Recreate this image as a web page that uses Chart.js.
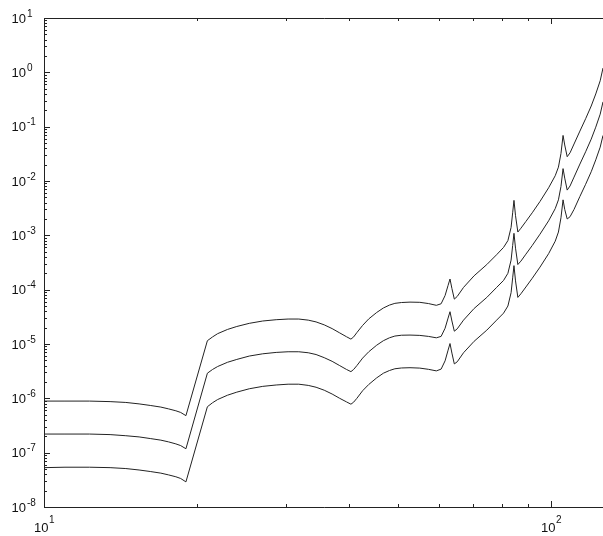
<!DOCTYPE html>
<html>
<head>
<meta charset="utf-8">
<script src="https://cdn.jsdelivr.net/npm/chart.js@4.4.1/dist/chart.umd.min.js"></script>
<style>
  html, body { margin: 0; padding: 0; background: #fff; }
  #wrap { width: 603px; height: 536px; }
</style>
</head>
<body>
<div id="wrap"><canvas id="myChart"></canvas></div>
<script>
// frequency axis, shared by the three response curves
const freq = [10, 11, 12.3, 13.5, 14.5, 15.4, 16.2, 17.0, 17.6, 18.2,
  18.6, 19.05, 21.0, 21.5, 22.0, 23.0, 24.0, 25.4, 27.0, 28.7,
  30.3, 31.8, 33.2, 34.4, 35.7, 37.0, 38.3, 39.5, 40.3, 40.8,
  41.4, 42.5, 43.7, 45.3, 46.7, 48.0, 49.2, 50.7, 52.7, 55.1,
  57.3, 59.4, 60.7, 61.8, 62.65, 63.2, 63.75, 64.45, 65.3, 67.2,
  70.5, 74.7, 78.1, 80.6, 82.2, 83.4, 84.0, 84.5, 85.1, 86.0,
  87.2, 89.2, 91.8, 95.1, 98.9, 101.9, 103.4, 104.6, 105.6, 106.4,
  107.6, 109.0, 111.0, 114.0, 117.0, 120.0, 122.5, 125.0, 126.6];

const upper = [8.9e-7, 8.9e-7, 8.9e-7, 8.7e-7, 8.4e-7, 7.9e-7, 7.4e-7, 6.9e-7, 6.4e-7, 5.9e-7,
  5.5e-7, 4.8e-7, 1.15e-5, 1.35e-5, 1.55e-5, 1.85e-5, 2.1e-5, 2.4e-5, 2.65e-5, 2.8e-5,
  2.88e-5, 2.88e-5, 2.75e-5, 2.55e-5, 2.25e-5, 1.92e-5, 1.6e-5, 1.36e-5, 1.23e-5, 1.35e-5,
  1.62e-5, 2.2e-5, 2.9e-5, 3.8e-5, 4.6e-5, 5.2e-5, 5.6e-5, 5.8e-5, 5.9e-5, 5.85e-5,
  5.55e-5, 5.15e-5, 5.5e-5, 7.8e-5, 1.2e-4, 1.57e-4, 1.05e-4, 6.7e-5, 7.5e-5, 1.1e-4,
  1.8e-4, 2.9e-4, 4.4e-4, 6.0e-4, 8.0e-4, 1.4e-3, 2.6e-3, 4.4e-3, 2.3e-3, 1.15e-3,
  1.35e-3, 1.8e-3, 2.6e-3, 4.2e-3, 7.5e-3, 1.25e-2, 1.8e-2, 3.2e-2, 6.9e-2, 4.6e-2,
  2.8e-2, 3.3e-2, 4.8e-2, 8.3e-2, 0.14, 0.24, 0.4, 0.7, 1.2];

const middle = [2.2e-7, 2.2e-7, 2.2e-7, 2.15e-7, 2.05e-7, 1.95e-7, 1.82e-7, 1.7e-7, 1.58e-7, 1.45e-7,
  1.35e-7, 1.18e-7, 2.9e-6, 3.4e-6, 3.85e-6, 4.6e-6, 5.2e-6, 6.0e-6, 6.6e-6, 7.0e-6,
  7.2e-6, 7.2e-6, 6.9e-6, 6.4e-6, 5.6e-6, 4.8e-6, 4.0e-6, 3.4e-6, 3.1e-6, 3.4e-6,
  4.0e-6, 5.5e-6, 7.2e-6, 9.5e-6, 1.15e-5, 1.3e-5, 1.4e-5, 1.45e-5, 1.46e-5, 1.44e-5,
  1.38e-5, 1.3e-5, 1.38e-5, 1.95e-5, 3.0e-5, 3.93e-5, 2.65e-5, 1.72e-5, 1.9e-5, 2.75e-5,
  4.5e-5, 7.2e-5, 1.1e-4, 1.48e-4, 2.0e-4, 3.5e-4, 6.5e-4, 1.09e-3, 5.8e-4, 2.9e-4,
  3.35e-4, 4.5e-4, 6.5e-4, 1.05e-3, 1.85e-3, 3.1e-3, 4.5e-3, 7.9e-3, 1.69e-2, 1.13e-2,
  6.8e-3, 8.1e-3, 1.18e-2, 2.05e-2, 3.45e-2, 5.9e-2, 9.8e-2, 0.17, 0.286];

const lower = [5.3e-8, 5.4e-8, 5.4e-8, 5.3e-8, 5.1e-8, 4.8e-8, 4.5e-8, 4.2e-8, 3.9e-8, 3.6e-8,
  3.35e-8, 2.9e-8, 7.0e-7, 8.3e-7, 9.5e-7, 1.14e-6, 1.3e-6, 1.5e-6, 1.66e-6, 1.76e-6,
  1.82e-6, 1.82e-6, 1.73e-6, 1.6e-6, 1.41e-6, 1.2e-6, 1.0e-6, 8.6e-7, 7.8e-7, 8.5e-7,
  1.0e-6, 1.38e-6, 1.8e-6, 2.38e-6, 2.9e-6, 3.25e-6, 3.5e-6, 3.62e-6, 3.66e-6, 3.6e-6,
  3.42e-6, 3.2e-6, 3.45e-6, 4.9e-6, 7.7e-6, 1.02e-5, 6.8e-6, 4.3e-6, 4.7e-6, 6.9e-6,
  1.12e-5, 1.8e-5, 2.75e-5, 3.7e-5, 5.0e-5, 8.8e-5, 1.65e-4, 2.77e-4, 1.45e-4, 7.2e-5,
  8.4e-5, 1.12e-4, 1.62e-4, 2.6e-4, 4.6e-4, 7.8e-4, 1.15e-3, 2.1e-3, 4.5e-3, 3.0e-3,
  2.0e-3, 2.2e-3, 3.0e-3, 5.2e-3, 8.7e-3, 1.48e-2, 2.45e-2, 4.2e-2, 0.069];

// decade labels, written as 10 with a raised exponent
const yExponents = [1, 0, -1, -2, -3, -4, -5, -6, -7, -8];
const xExponents = [1, 2];

function toPoints(ys) {
  return freq.map((f, i) => ({ x: f, y: ys[i] }));
}

function inRange(v, s) {
  return v >= s.min * 0.999 && v <= s.max * 1.001;
}

// box with inward ticks on every side, plus 10^n labels
const logAxes = {
  id: 'logAxes',
  afterDraw(chart) {
    const c = chart.ctx;
    const a = chart.chartArea;
    const xs = chart.scales.x;
    const ys = chart.scales.y;
    c.save();
    c.strokeStyle = '#222';
    c.lineWidth = 1;
    c.beginPath();
    c.moveTo(a.right + 2, a.top + 0.5);
    c.lineTo(a.left + 0.5, a.top + 0.5);
    c.lineTo(a.left + 0.5, a.bottom + 0.5);
    c.lineTo(a.right + 2, a.bottom + 0.5);

    for (let e = -8; e <= 1; e++) {
      for (let k = 1; k <= 9; k++) {
        const v = k * Math.pow(10, e);
        if (!inRange(v, ys)) continue;
        const py = Math.round(ys.getPixelForValue(v)) + 0.5;
        const len = k === 1 ? 6 : 3;
        c.moveTo(a.left, py);
        c.lineTo(a.left + len, py);
      }
    }
    for (let e = 1; e <= 2; e++) {
      for (let k = 1; k <= 9; k++) {
        const v = k * Math.pow(10, e);
        if (!inRange(v, xs)) continue;
        const px = Math.round(xs.getPixelForValue(v)) + 0.5;
        const len = k === 1 ? 6 : 3;
        c.moveTo(px, a.bottom);
        c.lineTo(px, a.bottom - len);
        c.moveTo(px, a.top);
        c.lineTo(px, a.top + len);
      }
    }
    c.stroke();

    c.fillStyle = '#111';
    c.textBaseline = 'alphabetic';
    const big = '13px "Liberation Sans", Arial, sans-serif';
    const small = '10px "Liberation Sans", Arial, sans-serif';

    yExponents.forEach(e => {
      const py = ys.getPixelForValue(Math.pow(10, e));
      c.font = big;
      c.textAlign = 'right';
      c.fillText('10', 26, py + 4.5);
      c.font = small;
      c.textAlign = 'left';
      c.fillText(String(e), 27, py - 1.5);
    });

    xExponents.forEach(e => {
      const px = xs.getPixelForValue(Math.pow(10, e));
      c.font = big;
      const w10 = c.measureText('10').width;
      c.font = small;
      const wExp = c.measureText(String(e)).width;
      const start = px - (w10 + wExp) / 2;
      c.textAlign = 'left';
      c.font = big;
      c.fillText('10', start, 532);
      c.font = small;
      c.fillText(String(e), start + w10 + 0.5, 523);
    });
    c.restore();
  }
};

new Chart(document.getElementById('myChart'), {
  type: 'line',
  data: {
    datasets: [
      { data: toPoints(upper) },
      { data: toPoints(middle) },
      { data: toPoints(lower) }
    ]
  },
  options: {
    responsive: true,
    maintainAspectRatio: false,
    animation: false,
    layout: { padding: { left: 44, top: 18, right: 0, bottom: 29 } },
    elements: {
      point: { radius: 0 },
      line: { borderColor: '#222', borderWidth: 1, tension: 0 }
    },
    plugins: {
      legend: { display: false },
      tooltip: { enabled: false }
    },
    scales: {
      x: { type: 'logarithmic', min: 10, max: 126.6, display: false },
      y: { type: 'logarithmic', min: 1e-8, max: 10, display: false }
    }
  },
  plugins: [logAxes]
});
</script>
</body>
</html>
